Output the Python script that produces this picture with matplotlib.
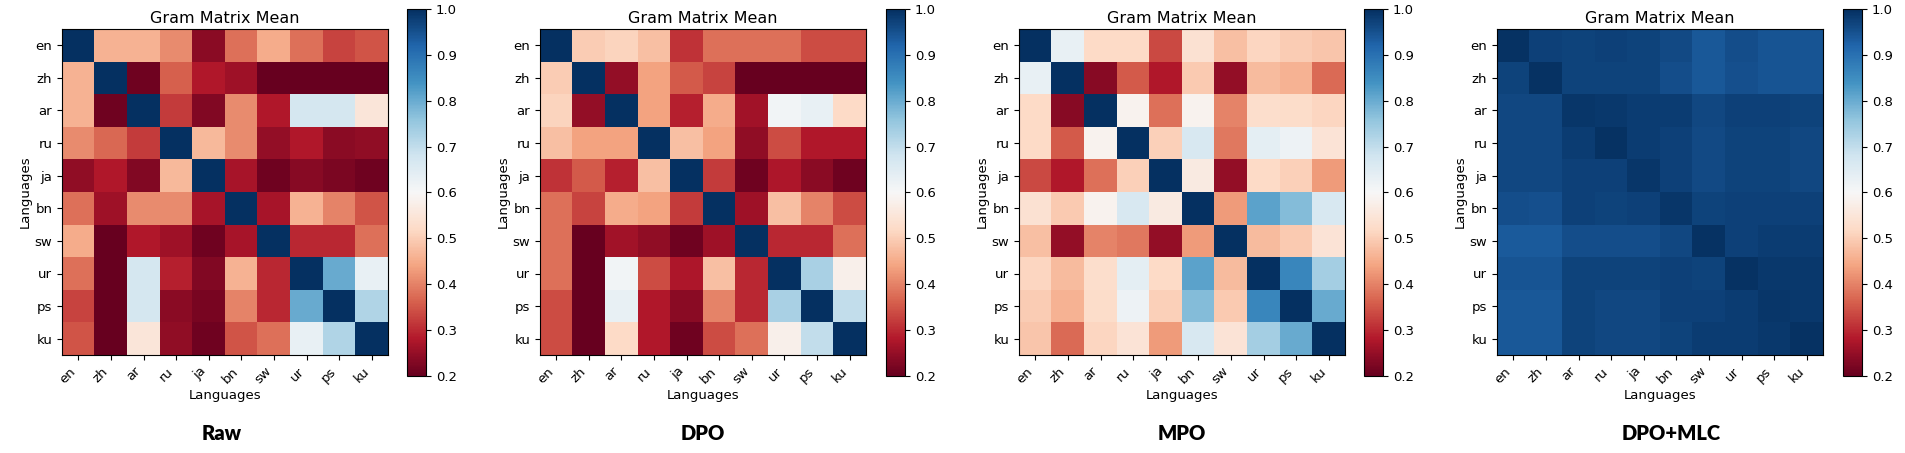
import numpy as np
import matplotlib
matplotlib.use("Agg")
import matplotlib.pyplot as plt

langs = ["en", "zh", "ar", "ru", "ja", "bn", "sw", "ur", "ps", "ku"]
panel_names = ["Raw", "DPO", "MPO", "DPO+MLC"]

raw = [
    [1.00, 0.46, 0.46, 0.41, 0.24, 0.38, 0.45, 0.38, 0.33, 0.35],
    [0.46, 1.00, 0.21, 0.36, 0.28, 0.26, 0.20, 0.20, 0.20, 0.20],
    [0.46, 0.21, 1.00, 0.32, 0.23, 0.41, 0.28, 0.67, 0.67, 0.55],
    [0.41, 0.37, 0.32, 1.00, 0.47, 0.41, 0.25, 0.28, 0.24, 0.245],
    [0.245, 0.28, 0.23, 0.47, 1.00, 0.27, 0.21, 0.235, 0.225, 0.21],
    [0.38, 0.26, 0.41, 0.41, 0.27, 1.00, 0.27, 0.46, 0.40, 0.35],
    [0.45, 0.20, 0.28, 0.26, 0.21, 0.27, 1.00, 0.30, 0.30, 0.38],
    [0.38, 0.20, 0.67, 0.29, 0.23, 0.46, 0.30, 1.00, 0.80, 0.63],
    [0.33, 0.20, 0.67, 0.24, 0.22, 0.40, 0.30, 0.80, 1.00, 0.72],
    [0.35, 0.20, 0.55, 0.245, 0.21, 0.35, 0.38, 0.63, 0.72, 1.00],
]

dpo = [
    [1.00, 0.50, 0.51, 0.48, 0.31, 0.38, 0.38, 0.38, 0.34, 0.34],
    [0.50, 1.00, 0.25, 0.44, 0.355, 0.33, 0.20, 0.20, 0.20, 0.20],
    [0.51, 0.25, 1.00, 0.44, 0.29, 0.45, 0.265, 0.61, 0.63, 0.52],
    [0.48, 0.44, 0.44, 1.00, 0.48, 0.44, 0.245, 0.34, 0.28, 0.28],
    [0.31, 0.355, 0.29, 0.48, 1.00, 0.32, 0.21, 0.275, 0.24, 0.21],
    [0.38, 0.33, 0.45, 0.44, 0.32, 1.00, 0.26, 0.48, 0.40, 0.34],
    [0.38, 0.20, 0.265, 0.245, 0.21, 0.26, 1.00, 0.30, 0.30, 0.38],
    [0.38, 0.20, 0.61, 0.34, 0.275, 0.48, 0.30, 1.00, 0.73, 0.58],
    [0.34, 0.20, 0.63, 0.28, 0.24, 0.40, 0.30, 0.73, 1.00, 0.70],
    [0.34, 0.20, 0.52, 0.28, 0.21, 0.34, 0.38, 0.58, 0.70, 1.00],
]

mpo = [
    [1.00, 0.63, 0.52, 0.52, 0.335, 0.54, 0.48, 0.515, 0.50, 0.49],
    [0.63, 1.00, 0.235, 0.355, 0.28, 0.495, 0.25, 0.475, 0.46, 0.375],
    [0.52, 0.235, 1.00, 0.585, 0.38, 0.585, 0.40, 0.53, 0.525, 0.515],
    [0.52, 0.355, 0.585, 1.00, 0.505, 0.665, 0.39, 0.64, 0.62, 0.545],
    [0.335, 0.28, 0.38, 0.505, 1.00, 0.565, 0.25, 0.52, 0.505, 0.43],
    [0.54, 0.495, 0.585, 0.665, 0.565, 1.00, 0.43, 0.815, 0.775, 0.665],
    [0.48, 0.25, 0.40, 0.39, 0.25, 0.43, 1.00, 0.475, 0.495, 0.545],
    [0.515, 0.475, 0.53, 0.64, 0.52, 0.815, 0.475, 1.00, 0.86, 0.735],
    [0.50, 0.46, 0.525, 0.62, 0.505, 0.775, 0.495, 0.86, 1.00, 0.80],
    [0.49, 0.375, 0.515, 0.545, 0.43, 0.665, 0.545, 0.735, 0.80, 1.00],
]

dpo_mlc = [
    [0.995, 0.975, 0.97, 0.975, 0.97, 0.96, 0.94, 0.955, 0.945, 0.945],
    [0.97, 0.995, 0.97, 0.97, 0.97, 0.955, 0.94, 0.95, 0.945, 0.945],
    [0.965, 0.965, 0.99, 0.985, 0.98, 0.98, 0.965, 0.975, 0.975, 0.97],
    [0.965, 0.965, 0.98, 0.995, 0.98, 0.975, 0.96, 0.97, 0.97, 0.965],
    [0.965, 0.965, 0.975, 0.975, 0.99, 0.975, 0.96, 0.97, 0.97, 0.965],
    [0.955, 0.95, 0.975, 0.97, 0.975, 0.99, 0.97, 0.975, 0.975, 0.975],
    [0.935, 0.935, 0.955, 0.955, 0.955, 0.965, 0.995, 0.975, 0.98, 0.98],
    [0.945, 0.945, 0.97, 0.97, 0.97, 0.975, 0.97, 0.995, 0.985, 0.985],
    [0.94, 0.94, 0.97, 0.965, 0.965, 0.975, 0.975, 0.98, 0.99, 0.985],
    [0.94, 0.94, 0.97, 0.965, 0.965, 0.97, 0.98, 0.98, 0.985, 0.995],
]

W, H = 1906, 453
# left edge of each heatmap / colorbar in pixels
ax_left = [62, 540, 1019, 1497]
cb_left = [407, 886, 1364, 1843]
label_x = [222, 703, 1182, 1671]


def main():
    fig = plt.figure(figsize=(W / 100, H / 100), dpi=100)
    mats = [raw, dpo, mpo, dpo_mlc]
    for i, m in enumerate(mats):
        ax = fig.add_axes([ax_left[i] / W, 1 - 355 / H, 326 / W, 326 / H])
        im = ax.imshow(np.array(m), cmap="RdBu", vmin=0.2, vmax=1.0,
                       aspect="auto", interpolation="nearest")
        ax.set_xticks(range(len(langs)))
        ax.set_yticks(range(len(langs)))
        ax.set_xticklabels(langs, rotation=45, ha="right", fontsize=9.5)
        ax.set_yticklabels(langs, fontsize=9.5)
        ax.set_xlabel("Languages", fontsize=9.5, labelpad=2)
        ax.set_ylabel("Languages", fontsize=9.5, labelpad=2)
        ax.set_title("Gram Matrix Mean", fontsize=11.5, pad=4)

        cax = fig.add_axes([cb_left[i] / W, 1 - 376 / H, 19 / W, 367 / H])
        cb = fig.colorbar(im, cax=cax, ticks=np.arange(0.2, 1.01, 0.1))
        cb.ax.tick_params(labelsize=9.5)

        fig.text(label_x[i] / W, 1 - 434 / H, panel_names[i], ha="center",
                 va="center", fontsize=14.5, fontweight="heavy", family="Lato")

    fig.savefig("out.png", dpi=100)


if __name__ == "__main__":
    main()
